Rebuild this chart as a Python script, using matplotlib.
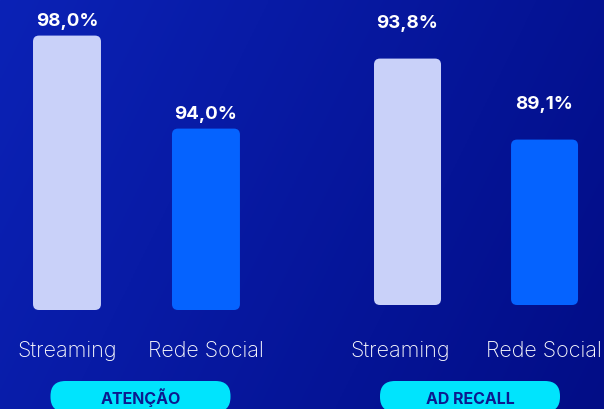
import numpy as np
import matplotlib
matplotlib.use('Agg')
import matplotlib.pyplot as plt
from matplotlib.patches import FancyBboxPatch
from matplotlib.transforms import blended_transform_factory

# data
groups = ['ATENÇÃO', 'AD RECALL']
categories = ['Streaming', 'Rede Social']
atencao_values = [98.0, 94.0]
recall_values = [93.8, 89.1]
value_labels = [['98,0%', '94,0%'], ['93,8%', '89,1%']]

bar_colors = ['#c9d1f9', '#0563ff']
plt.rcParams['font.family'] = ['Inter', 'DejaVu Sans']

W, H = 604, 409
fig = plt.figure(figsize=(W / 100, H / 100), dpi=100)

# background gradient
bg = fig.add_axes([0, 0, 1, 1])
xx, yy = np.meshgrid(np.linspace(0, 1, 300), np.linspace(0, 1, 200))
left = np.array([0x0b, 0x22, 0xb6]) / 255
right = np.array([0x02, 0x0d, 0x86]) / 255
t = np.clip(0.75 * xx + 0.25 * yy, 0, 1)[..., None]
img = left * (1 - t) + right * t
bg.imshow(img, aspect='auto', extent=[0, 1, 0, 1], origin='upper')
bg.set_xlim(0, 1)
bg.set_ylim(0, 1)
bg.axis('off')

# axes layout (pixels): baseline, x-span, ylim
panels = [
    dict(vals=atencao_values, base=310, x0=0, x1=302, xlim=(-0.482, 1.691), ylim=(86.2, 99.53), gap=7, lab_dx=[0, 0]),
    dict(vals=recall_values, base=305, x0=302, x1=604, xlim=(-0.770, 1.434), ylim=(79.5, 97.2), gap=22, lab_dx=[-7, -1]),
]
pill_centers = [140.5, 470]

for i, p in enumerate(panels):
    ax = fig.add_axes([p['x0'] / W, (H - p['base']) / H, (p['x1'] - p['x0']) / W, p['base'] / H])
    ax.patch.set_alpha(0)
    ax.set_xlim(*p['xlim'])
    ax.set_ylim(*p['ylim'])
    ax.axis('off')
    x = np.arange(len(categories))
    bars = ax.bar(x, np.array(p['vals']) - p['ylim'][0], bottom=p['ylim'][0], width=0.489, color=bar_colors)
    fig.canvas.draw()
    pxx = ax.transData.transform([[1, 0]])[0][0] - ax.transData.transform([[0, 0]])[0][0]
    pxy = ax.transData.transform([[0, 1]])[0][1] - ax.transData.transform([[0, 0]])[0][1]
    for b in bars:
        fb = FancyBboxPatch((b.get_x(), b.get_y()), b.get_width(), b.get_height(),
                            boxstyle='round,pad=0,rounding_size=%f' % (6 / pxx),
                            mutation_aspect=pxx / pxy, fc=b.get_facecolor(), ec='none')
        ax.add_patch(fb)
        b.remove()
    for j, v in enumerate(p['vals']):
        ax.annotate(value_labels[i][j], (x[j], v), xytext=(0, p['gap']), textcoords='offset points',
                    ha='center', va='baseline', color='white', fontsize=13.5, fontweight='bold')
    tr = blended_transform_factory(ax.transData, fig.transFigure)
    for j, c in enumerate(categories):
        ax.text(x[j] + p['lab_dx'][j] / pxx, (H - 357) / H, c, transform=tr, ha='center', va='baseline',
                color='white', fontsize=15.5, fontweight='light')

    # pill label
    cx = pill_centers[i]
    pill = FancyBboxPatch(((cx - 90) / 100, -0.03), 1.80, 0.31,
                          boxstyle='round,pad=0,rounding_size=0.15',
                          transform=fig.dpi_scale_trans, fc='#00e4fd', ec='none')
    fig.add_artist(pill)
    fig.text(cx / W, (H - 404) / H, groups[i], ha='center', va='baseline',
             color='#0c1a8e', fontsize=11.5, fontweight='bold')

fig.savefig('out.png', dpi=100)
